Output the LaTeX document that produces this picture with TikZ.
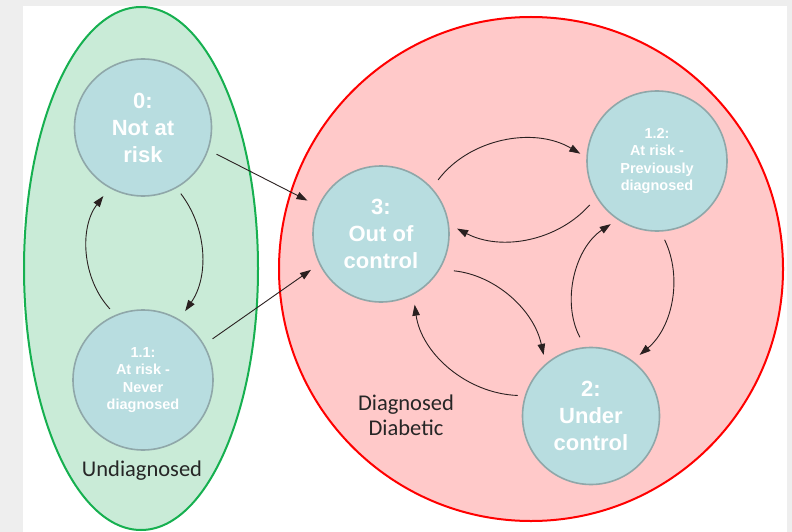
\documentclass[tikz,border=0pt]{standalone}
\usepackage{fontspec}
\setmainfont{Liberation Sans}
\newfontfamily\calib{Carlito}
\usetikzlibrary{arrows.meta}
\definecolor{bggray}{HTML}{EEEEEE}
\definecolor{grnfill}{HTML}{C9EBD7}
\definecolor{grnline}{HTML}{16B050}
\definecolor{redfill}{HTML}{FFC9C9}
\definecolor{redline}{HTML}{FF0000}
\definecolor{nodefill}{HTML}{B8DDE0}
\definecolor{nodeline}{HTML}{8FA7A9}
\definecolor{arrcol}{HTML}{2A2020}
\begin{document}
\begin{tikzpicture}[x=1pt,y=-1pt,
  state/.style={circle, fill=nodefill, draw=nodeline, line width=1.6pt,
    minimum size=#1, inner sep=0pt, text=white, align=center},
  bigtxt/.style={font=\fontsize{22}{27}\selectfont\bfseries},
  smalltxt/.style={font=\fontsize{14.5}{17.5}\selectfont\bfseries},
  grouplabel/.style={font=\calib\fontsize{22.5}{25}\selectfont, text=black!85, align=center},
  arr/.style={draw=arrcol, line width=0.9pt, -{Triangle[length=11pt,width=7.5pt]}}
]
\useasboundingbox (0,0) rectangle (792,532);
\fill[bggray] (0,0) rectangle (792,532);
\fill[white] (23,6) rectangle (787,532);

\draw[fill=grnfill, draw=grnline, line width=2pt] (141,268.5) ellipse [x radius=117pt, y radius=261.5pt];
\draw[fill=redfill, draw=redline, line width=2pt] (531,269) circle [radius=252pt];

\node[state=137pt, bigtxt] (n0) at (143,127.5) {0:\\Not at\\risk};
\node[state=140pt, smalltxt] (n11) at (143,380) {1.1:\\At risk -\\Never\\diagnosed};
\node[state=136pt, bigtxt] (n3) at (381,234) {3:\\Out of\\control};
\node[state=140pt, smalltxt] (n12) at (657,161) {1.2:\\At risk -\\Previously\\diagnosed};
\node[state=137pt, bigtxt] (n2) at (591,416) {2:\\Under\\control};

\node[grouplabel] (lu) at (142,471) {Undiagnosed};
\node[grouplabel] (ld) at (406,415) {Diagnosed\\Diabetic};

\draw[arr, shorten <=7pt, shorten >=10pt] (n0.-61) to[bend left=36] (n11.59);
\draw[arr, shorten <=8pt, shorten >=10pt] (n11.113) to[bend left=40] (n0.-119.5);
\draw[arr, shorten <=9pt, shorten >=12pt] (n0.-19) -- (n3.156.6);
\draw[arr, shorten <=10pt, shorten >=10pt] (n11.30.7) -- (n3.206.6);
\draw[arr, shorten <=10pt, shorten >=7pt] (n3.42.9) to[bend left=42] (n12.177);
\draw[arr, shorten <=10pt, shorten >=9pt] (n12.211.7) to[bend left=38] (n3.8.2);
\draw[arr, shorten <=14pt, shorten >=9pt] (n3.-31) to[bend left=36] (n2.131.8);
\draw[arr, shorten <=7pt, shorten >=10pt] (n2.163.7) to[bend left=40] (n3.-62.4);
\draw[arr, shorten <=11pt, shorten >=8pt] (n2.95.8) to[bend left=42] (n12.236);
\draw[arr, shorten <=9pt, shorten >=9pt] (n12.-87.1) to[bend left=38] (n2.53.4);
\end{tikzpicture}
\end{document}
